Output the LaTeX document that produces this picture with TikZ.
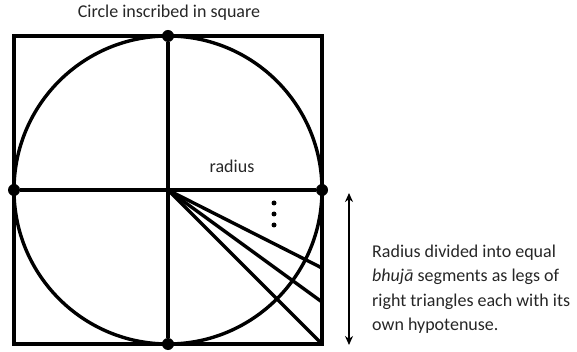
\documentclass[tikz,border=0pt]{standalone}
\usepackage{fontspec}
\setmainfont{Carlito}
\usetikzlibrary{arrows.meta,positioning}
\tikzset{
  pt/.style  ={circle,fill=black,minimum size=12pt,inner sep=0pt},
  dotm/.style={circle,fill=black,minimum size=5pt,inner sep=0pt},
  edge/.style={line width=3.4pt},
  ar/.style={{Stealth[length=9pt,width=8pt]}-{Stealth[length=9pt,width=8pt]},line width=2.4pt},
  lbl/.style ={font=\fontsize{18}{24.5}\selectfont,inner sep=0pt,text=black!85},
}
\begin{document}
\begin{tikzpicture}[x=1pt,y=-1pt]
  \useasboundingbox (0,0) rectangle (577,352);
  \coordinate (O)  at (168,190);
  \coordinate (NW) at (14,36);
  \coordinate (SE) at (322,344);
  \draw[edge] (NW) rectangle (SE);
  \draw[edge] (O) circle[radius=154pt];
  \node[pt] (top)   at (168,36)  {};
  \node[pt] (bot)   at (168,344) {};
  \node[pt] (left)  at (14,190)  {};
  \node[pt] (right) at (322,190) {};
  \draw[edge] (top) -- (bot); \draw[edge] (left) -- (right);
  \coordinate (h1) at (322,268);
  \coordinate (h2) at (322,302);
  \draw[edge] (O)--(h1); \draw[edge] (O)--(h2); \draw[edge] (O)--(SE);
  \foreach \i/\y in {1/203,2/214,3/225}
    \node[dotm] (d\i) at (274,\y) {};
  \node[lbl,anchor=base] (title) at (169,18)  {Circle inscribed in square};
  \node[lbl,anchor=base] (rad)   at (232,173) {radius};
  \coordinate (a1) at (349,193);
  \coordinate (a2) at (349,345);
  \draw[ar] (a1) -- (a2);
  \node[lbl,anchor=base west,align=left] (note) at (372,330.5)
    {Radius divided into equal\\ \textit{bhujā} segments as legs of\\ right triangles each with its\\ own hypotenuse.};
\end{tikzpicture}
\end{document}
